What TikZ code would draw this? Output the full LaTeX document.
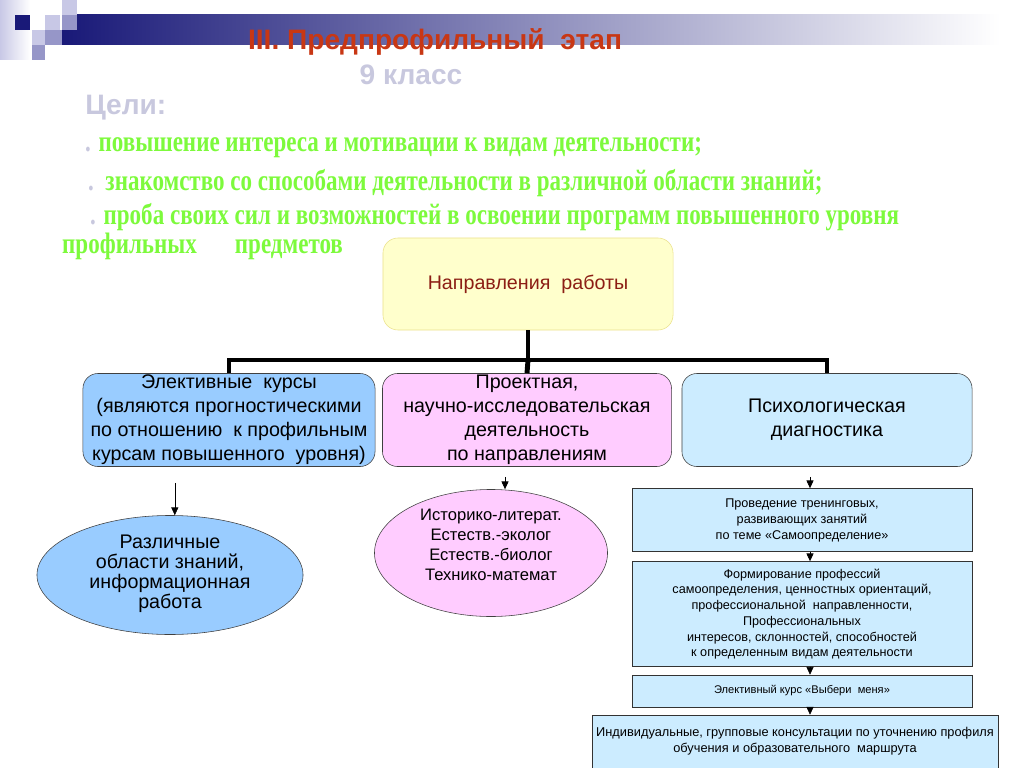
\documentclass[tikz,border=0pt]{standalone}
\usepackage{fontspec}
\setmainfont{Liberation Sans}
\newfontfamily\goalfont{Liberation Serif}
\usetikzlibrary{shapes.geometric,arrows.meta}
\definecolor{titlered}{RGB}{200,55,20}
\definecolor{lavgray}{RGB}{200,200,222}
\definecolor{goalgreen}{RGB}{125,250,60}
\definecolor{barnavy}{RGB}{25,25,120}
\definecolor{sqlight}{RGB}{200,200,230}
\definecolor{sqmid}{RGB}{150,150,200}
\definecolor{elblue}{RGB}{153,204,255}
\definecolor{prpink}{RGB}{255,204,255}
\definecolor{psblue}{RGB}{204,236,255}
\definecolor{diryellow}{RGB}{255,255,204}
\definecolor{diredge}{RGB}{235,225,140}
\definecolor{dirtext}{RGB}{140,30,20}

\begin{document}
\begin{tikzpicture}[x=0.025cm,y=-0.025cm]
    \tikzstyle{tree}=[draw,line width=3.5pt,black]
    \tikzstyle{bigbox}=[draw=black!75,rounded corners=0.375cm,minimum width=7.25cm,minimum height=2.325cm,align=center,inner sep=0pt,font=\fontsize{14}{17}\selectfont]
    \tikzstyle{oval}=[draw=black!75,ellipse,inner sep=0pt]
    \tikzstyle{stepbox}=[draw=black!80,fill=psblue,minimum width=8.5cm,align=center,inner sep=0pt,font=\fontsize{9}{11.2}\selectfont]
    \tikzstyle{goal}=[anchor=west,inner sep=0pt,xscale=0.78,text=goalgreen,font=\goalfont\bfseries\fontsize{21}{24}\selectfont]
    \tikzstyle{head}=[font=\bfseries\fontsize{20}{24}\selectfont]
    \tikzstyle{arr}=[draw,thin,-{Triangle[length=5.5pt,width=5pt]}]
    \useasboundingbox (0,0) rectangle (1024,768);
    % corner decoration
    \fill[left color=sqlight,right color=white] (0,0) rectangle (30,60);
    \shade[left color=barnavy,right color=white] (62,15) rectangle (1000,45);
    \fill[barnavy] (15,15) rectangle (30,30);
    \fill[sqlight] (45,15) rectangle (60,30);
    \fill[sqlight] (62,0) rectangle (77,15);
    \fill[sqmid] (62,15) rectangle (77,30);
    \fill[sqlight] (32,30) rectangle (45,45);
    \fill[sqmid] (45,30) rectangle (62,45);
    \fill[sqmid] (32,45) rectangle (45,60);
    % heading
    \node[head,text=titlered] (title) at (435,42) {III. Предпрофильный\ \ этап};
    \node[head,text=lavgray] (grade) at (411,75) {9 класс};
    \node[head,text=lavgray,anchor=west,inner sep=0pt] (aims) at (85,108) {Цели:};
    \node[goal] (g1) at (85,148) {{\color{lavgray}.} повышение интереса и мотивации к видам деятельности;};
    \node[goal] (g2) at (88,183) {{\color{lavgray}.}\ \ знакомство со способами деятельности в различной области знаний;};
    \node[goal] (g3) at (90,217) {{\color{lavgray}.} проба своих сил и возможностей в освоении программ повышенного уровня};
    \node[goal] (g4) at (62,246) {профильных\hspace{1.22cm}предметов};
    % main boxes
    \node[bigbox,fill=diryellow,draw=diredge,text=dirtext,minimum height=2.3cm] (dir) at (528,284) {Направления\ \ работы};
    \node[bigbox,fill=elblue,minimum width=7.3cm] (elect) at (229,420) {Элективные\ \ курсы\\(являются прогностическими\\по отношению\ \ к профильным\\курсам повышенного\ \ уровня)};
    \node[bigbox,fill=prpink,minimum width=7.225cm] (proj) at (527,420) {Проектная,\\научно-исследовательская\\деятельность\\по направлениям};
    \node[bigbox,fill=psblue] (psy) at (827,420) {Психологическая\\диагностика};
    \coordinate (fork) at (528,360);
    \draw[tree] (dir.south) -- (fork);
    \draw[tree] (elect.north) |- (fork) -| (psy.north);
    \draw[tree] (fork) -- (proj.north);
    % ovals
    \node[oval,fill=elblue,minimum width=6.65cm,minimum height=2.975cm,
          label={[align=center,font=\fontsize{14}{14.3}\selectfont,yshift=0.03cm]center:Различные\\ области знаний,\\информационная\\работа}] (areas) at (170,575) {};
    \node[oval,fill=prpink,minimum width=5.825cm,minimum height=3.175cm,
          label={[align=center,font=\fontsize{11.8}{14.2}\selectfont,yshift=0.2cm]center:Историко-литерат.\\Естеств.-эколог\\Естеств.-биолог\\Технико-математ}] (dirs) at (491,553) {};
    \draw[arr,shorten <=0.4cm] ([xshift=0.12cm]elect.south -| areas.north) -- ([xshift=0.12cm]areas.north);
    \draw[arr,shorten <=0.25cm] ([xshift=0.35cm]proj.south -| dirs.north) -- ([xshift=0.35cm]dirs.north);
    % diagnostics steps
    \node[stepbox,minimum height=1.575cm,font=\fontsize{9}{11.4}\selectfont] (rA) at (802,520) {Проведение тренинговых,\\развивающих занятий\\по теме «Самоопределение»};
    \node[stepbox,minimum height=2.625cm] (rB) at (802,614) {Формирование профессий\\самоопределения, ценностных ориентаций,\\профессиональной\ \ направленности,\\Профессиональных\\интересов, склонностей, способностей\\к определенным видам деятельности};
    \node[stepbox,minimum height=0.8cm,font=\fontsize{7.9}{9}\selectfont] (rC) at (802,691) {Элективный курс «Выбери\ \ меня»};
    \node[stepbox,minimum width=10.15cm,minimum height=1.6cm,
          label={[align=center,font=\fontsize{9.1}{11.3}\selectfont,yshift=0.15cm]center:Индивидуальные, групповые консультации по уточнению профиля\\обучения и образовательного\ \ маршрута}] (rD) at (795,747) {};
    \draw[arr,shorten <=0.25cm] ([xshift=0.2cm]psy.south -| rA.north) -- ([xshift=0.2cm]rA.north);
    \draw[arr] ([xshift=0.2cm]rA.south) -- ([xshift=0.2cm]rB.north);
    \draw[arr] ([xshift=0.2cm]rB.south) -- ([xshift=0.2cm]rC.north);
    \draw[arr] ([xshift=0.2cm]rC.south) -- ([xshift=0.2cm]rC.south |- rD.north);
\end{tikzpicture}
\end{document}
